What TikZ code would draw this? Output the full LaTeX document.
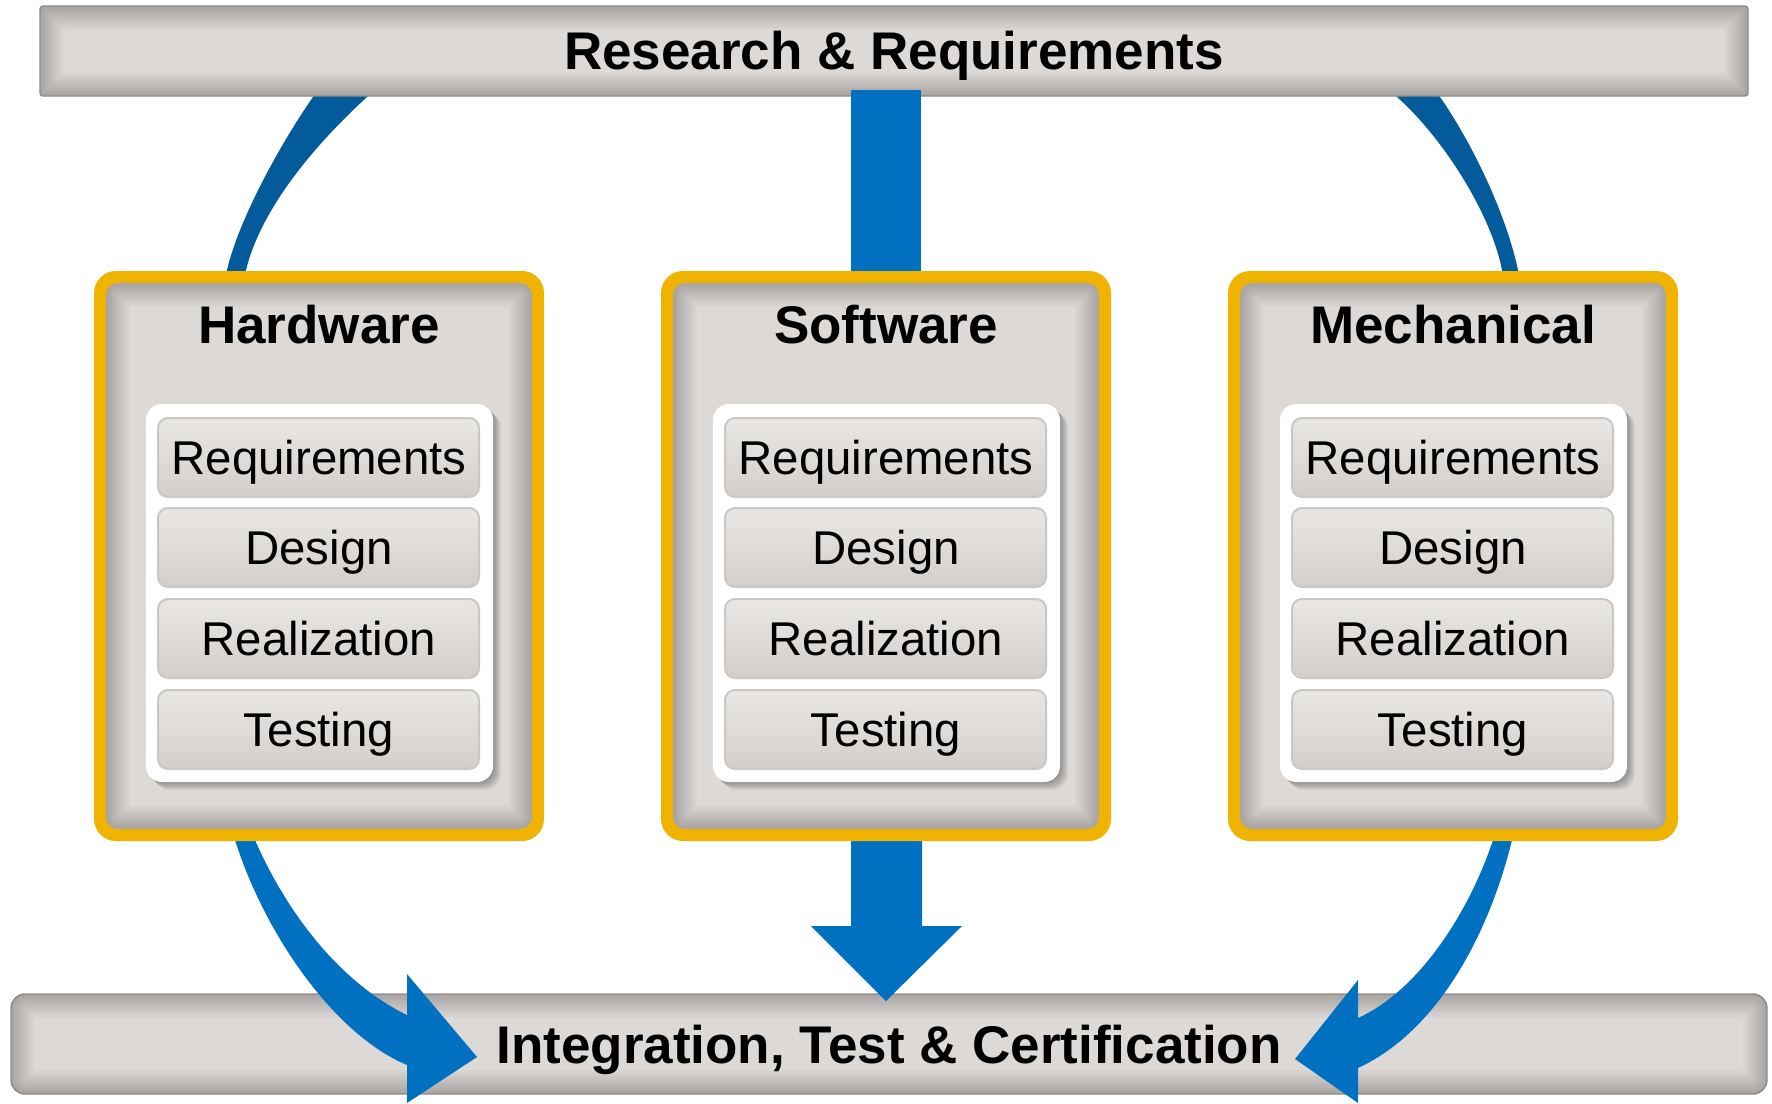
\documentclass[tikz,border=0pt]{standalone}
\usepackage{fontspec}
\setmainfont{Liberation Sans}
\definecolor{ybord}{HTML}{F0B400}
\definecolor{darkarc}{HTML}{035B9B}
\definecolor{arrblue}{HTML}{0071C0}
\definecolor{gdark}{HTML}{A9A5A2}
\definecolor{glight}{HTML}{DCD9D6}
\definecolor{btop}{HTML}{E9E7E5}
\definecolor{bbot}{HTML}{D2CECB}
\definecolor{bbord}{HTML}{CBC7C4}
\definecolor{barline}{HTML}{8E8B89}

% inner-glow rectangle: x0 y0 x1 y1 radius(px)
\newcommand\glowrect[5]{%
  \foreach \i in {0,...,12}{%
    \pgfmathtruncatemacro\pp{\i*100/12}%
    \pgfmathsetmacro\rr{max(#5-\i*2,1)*0.5}%
    \fill[glight!\pp!gdark, rounded corners=\rr pt] (#1+\i*2,#2+\i*2) rectangle (#3-\i*2,#4-\i*2);
  }}

% one step button: x0, top, name, label
\newcommand\stepbtn[4]{%
  \draw[btnshape] (#1+64,#2) rectangle (#1+385,#2+79);
  \node[itemtext] (#3) at (#1+225,#2+56.5) {#4};
}

% discipline box: left x, name, title
\newcommand\discbox[3]{%
  \fill[ybord, rounded corners=11pt] (#1,271) rectangle (#1+450,841);
  \glowrect{#1+12}{283}{#1+438}{829}{12}
  \node[minimum width=225pt, minimum height=285pt, inner sep=0pt] (#2) at (#1+225,556) {};
  \node[titletext] (#2-t) at (#1+225,343) {#3};
  \foreach \k in {1,...,8}{%
    \fill[black, opacity=0.045, rounded corners=8pt] (#1+52+\k,404+\k) rectangle (#1+399+\k,782+\k);
  }
  \fill[white, rounded corners=8pt] (#1+52,404) rectangle (#1+399,782);
  \stepbtn{#1}{418}{#2-r}{Requirements}
  \stepbtn{#1}{508}{#2-d}{Design}
  \stepbtn{#1}{599}{#2-z}{Realization}
  \stepbtn{#1}{690}{#2-e}{Testing}
}

\begin{document}
\begin{tikzpicture}[x=0.5pt,y=-0.5pt,
  titletext/.style={font=\fontsize{26.5}{30}\selectfont\bfseries, anchor=base, inner sep=0pt},
  itemtext/.style={font=\fontsize{23.7}{28}\selectfont, anchor=base, inner sep=0pt},
  btnshape/.style={draw=bbord, line width=1pt, top color=btop, bottom color=bbot, rounded corners=5pt},
  arrowfill/.style={fill=arrblue},
  arcfill/.style={fill=darkarc}]

\useasboundingbox (0,0) rectangle (1772,1103);
\fill[white] (0,0) rectangle (1772,1103);
\clip (0,0) rectangle (1772,1103);

% --- upper dark arcs (behind bars and boxes)
\fill[arcfill] (316,90) -- (313,97) .. controls (285,137) and (240,215) .. (227,270) -- (225,278) -- (244,278)
  -- (246,270) .. controls (262,205) and (320,140) .. (367,97) -- (374,90) -- cycle;
\fill[arcfill] (1391,90) -- (1397,97) .. controls (1440,135) and (1490,210) .. (1502,270) -- (1504,278) -- (1520,278)
  -- (1518,270) .. controls (1505,210) and (1470,140) .. (1440,97) -- (1436,90) -- cycle;

% --- top bar
\glowrect{40}{6}{1748}{96}{3}
\draw[barline, line width=0.7pt, rounded corners=1.5pt] (40,6) rectangle (1748,96);
\node[minimum width=854pt, minimum height=45pt, inner sep=0pt] (rr) at (894,51) {};
\node[titletext] (rr-t) at (894,69) {Research \& Requirements};

% --- bottom bar
\glowrect{11}{994}{1767}{1094}{14}
\draw[barline, line width=0.7pt, rounded corners=7pt] (11,994) rectangle (1767,1094);
\node[minimum width=878pt, minimum height=50pt, inner sep=0pt] (itc) at (889,1044) {};
\node[titletext] (itc-t) at (889,1063) {Integration, Test \& Certification};

% --- central top connector
\fill[arrowfill] (851,90) rectangle (921,278);

% --- lower arrows
\fill[arrowfill] (235,830) -- (235,840) .. controls (265,935) and (335,1035) .. (407,1065) -- (407,1103)
  -- (477,1057) -- (407,974) -- (407,1015) .. controls (345,985) and (290,920) .. (255,840) -- (255,830) -- cycle;
\fill[arrowfill] (1493,830) -- (1493,840) .. controls (1470,910) and (1420,990) .. (1358,1018) -- (1358,980)
  -- (1295,1059) -- (1358,1103) -- (1358,1068) .. controls (1440,1030) and (1490,930) .. (1512,840) -- (1512,830) -- cycle;
\fill[arrowfill] (851,830) -- (851,926) -- (811,926) -- (886,1001) -- (962,926) -- (922,926) -- (922,830) -- cycle;

% --- discipline boxes
\discbox{94}{hw}{Hardware}
\discbox{661}{sw}{Software}
\discbox{1228}{me}{Mechanical}

\end{tikzpicture}
\end{document}
